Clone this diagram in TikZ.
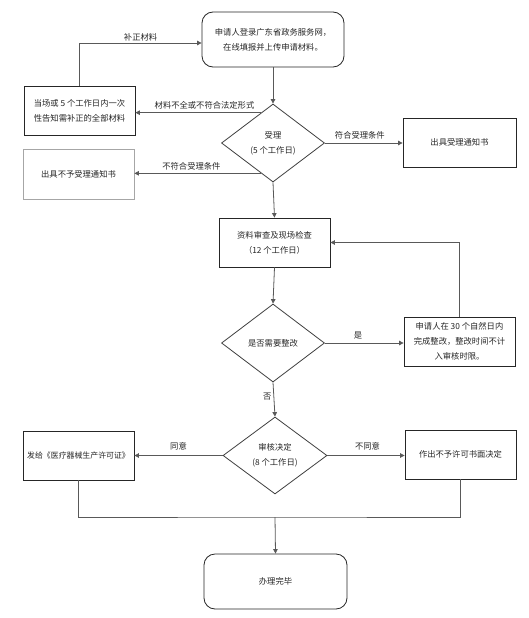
\documentclass[tikz,border=0pt]{standalone}
\usepackage{fontspec}
\setmainfont{Noto Sans CJK SC}
\usetikzlibrary{shapes.geometric,arrows.meta,calc}
\begin{document}
\begin{tikzpicture}[x=1pt,y=-1pt,
  every node/.style={font=\fontsize{8.3}{14.8}\selectfont, text=black!85},
  box/.style={draw=black!85, line width=0.8pt, align=center, inner sep=0pt, minimum width=111, minimum height=49},
  rbox/.style={box, rounded corners=11pt, minimum width=142, minimum height=55},
  dia/.style={draw=black!75, line width=0.8pt, diamond, align=center, inner sep=0pt, minimum width=103, minimum height=78},
  conn/.style={draw=black!65, line width=0.8pt},
  arr/.style={conn, -{Triangle[length=4.5pt,width=4.5pt]}},
  lbl/.style={inner sep=1pt}]
\useasboundingbox (0,0) rectangle (529,618);
\fill[white] (0,0) rectangle (529,618);

\node[rbox] (start) at (273,39.5) {申请人登录广东省政务服务网，\\在线填报并上传申请材料。};
\node[box] (leftA) at (79.5,111) {当场或 5 个工作日内一次\\性告知需补正的全部材料};
\node[dia] (d1) at (273,143) {受理\\(5 个工作日)};
\node[box, minimum width=113] (acc) at (459.5,142.5) {出具受理通知书};
\node[box, draw=black!35, minimum height=50] (rej) at (78.5,174) {出具不予受理通知书};
\node[box] (rev) at (274.5,242.5) {资料审查及现场检查\\（12 个工作日）};
\node[dia] (d2) at (273,343) {是否需要整改};
\node[box] (fix) at (459.5,341.5) {申请人在 30 个自然日内\\完成整改，整改时间不计\\入审核时限。};
\node[dia, minimum width=104, minimum height=77] (d3) at (275,455.5) {审核决定\\(8 个工作日)};
\node[box] (iss) at (78.5,455.5) {\fontsize{7.9}{12}\selectfont 发给《医疗器械生产许可证》};
\node[box] (den) at (460.5,454.5) {作出不予许可书面决定};
\node[rbox, minimum width=143] (fin) at (275.5,581.5) {办理完毕};

\coordinate (p1) at ($(d1.north)!0.23!(d1.west)$);
\coordinate (p2) at ($(d1.west)!0.77!(d1.south)$);
\coordinate (j) at (275,517);

\draw[arr] (start.south) -- (d1.north);
\draw[arr] (leftA.north) |- node[lbl, pos=0.75, above] {补正材料} ($(start.west)+(0,3.5)$);
\draw[arr] (p1) -- node[lbl, above, pos=0.45, yshift=2pt] {材料不全或不符合法定形式} (p1 -| leftA.east);
\draw[arr] (d1.east) -- node[lbl, above, pos=0.45, yshift=2pt] {符合受理条件} (d1.east -| acc.west);
\draw[arr] (p2) -- node[lbl, above, pos=0.55, yshift=2pt] {不符合受理条件} (p2 -| rej.east);
\draw[arr] (d1.south) -- (rev.north);
\draw[arr] (rev.south) -- (d2.north);
\draw[arr] (d2.east) -- node[lbl, above, pos=0.42, yshift=2pt] {是} (d2.east -| fix.west);
\draw[arr] (fix.north) |- (rev.east);
\draw[arr] (d2.south) -- node[lbl, left, pos=0.4, xshift=-1pt] {否} (d3.north);
\draw[arr] (d3.west) -- node[lbl, above, pos=0.5, yshift=4pt] {同意} (d3.west -| iss.east);
\draw[arr] (d3.east) -- node[lbl, above, pos=0.52, yshift=4pt] {不同意} (d3.east -| den.west);
\draw[conn] (iss.south) |- (j) -| (den.south);
\draw[arr] (j) -- (fin.north);
\end{tikzpicture}
\end{document}
